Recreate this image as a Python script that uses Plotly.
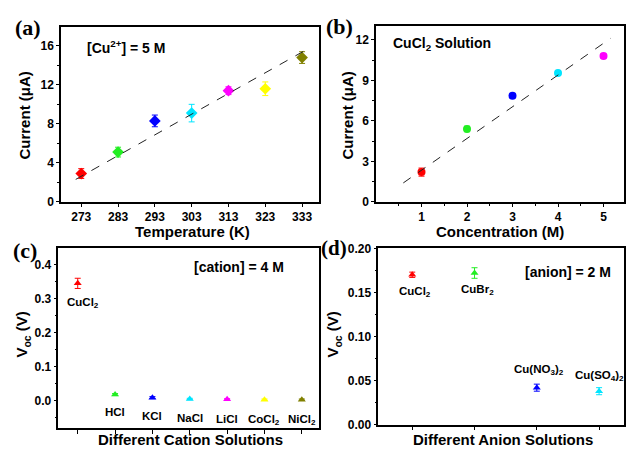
import plotly.graph_objects as go

W, H = 629, 454

# ---------------- data ----------------
temp_K = [273, 283, 293, 303, 313, 323, 333]
temp_current = [2.9, 5.1, 8.3, 9.1, 11.4, 11.6, 14.8]
temp_err = [0.5, 0.5, 0.6, 0.9, 0.4, 0.7, 0.6]
temp_fit_x = [271.5, 334.6]
temp_fit_y = [2.3, 15.7]

conc_M = [1, 2, 3, 4, 5]
conc_current = [2.2, 5.4, 7.85, 9.55, 10.8]
conc_err = [0.3, 0.2, 0.15, 0.1, 0.15]
conc_fit_x = [0.6, 5.15]
conc_fit_y = [1.4, 12.1]

cation_names = ["CuCl<sub>2</sub>", "HCl", "KCl", "NaCl", "LiCl", "CoCl<sub>2</sub>", "NiCl<sub>2</sub>"]
cation_voc = [0.345, 0.018, 0.009, 0.005, 0.004, 0.003, 0.003]
cation_err = [0.015, 0.003, 0.003, 0.002, 0.002, 0.002, 0.002]

anion_names = ["CuCl<sub>2</sub>", "CuBr<sub>2</sub>", "Cu(NO<sub>3</sub>)<sub>2</sub>", "Cu(SO<sub>4</sub>)<sub>2</sub>"]
anion_voc = [0.170, 0.172, 0.042, 0.038]
anion_err = [0.003, 0.006, 0.004, 0.004]

colors7 = ["#ff0000", "#22ee22", "#0000ff", "#00e5ff", "#ff00ff", "#ffff00", "#808000"]
colors5 = ["#ff0000", "#22ee22", "#0000ff", "#00e5ff", "#ff00ff"]
colors4 = ["#ff0000", "#22ee22", "#0000ff", "#00e5ff"]

# ---------------- helpers ----------------
def px_x(p):
    return p / W

def px_y(p):
    return (H - p) / H

FONT = "Liberation Sans, Arial, sans-serif"
SERIF = "Liberation Serif, Times New Roman, serif"

fig = go.Figure()

def add_points(xs, ys, errs, cols, symbol, size, xa, ya):
    for x, y, e, c in zip(xs, ys, errs, cols):
        fig.add_trace(go.Scatter(
            x=[x], y=[y], mode="markers", xaxis=xa, yaxis=ya,
            marker=dict(symbol=symbol, size=size, color=c, line=dict(width=0)),
            error_y=dict(type="data", array=[e], color=c, thickness=1, width=3),
            showlegend=False, hoverinfo="skip"))

# (a)
add_points(temp_K, temp_current, temp_err, colors7, "diamond", 9, "x", "y")
fig.add_trace(go.Scatter(x=temp_fit_x, y=temp_fit_y, mode="lines", xaxis="x", yaxis="y",
                         line=dict(color="#222222", width=1, dash="dash"), showlegend=False))
# (b)
add_points(conc_M, conc_current, conc_err, colors5, "circle", 8, "x2", "y2")
fig.add_trace(go.Scatter(x=conc_fit_x, y=conc_fit_y, mode="lines", xaxis="x2", yaxis="y2",
                         line=dict(color="#222222", width=1, dash="dash"), showlegend=False))
# (c)
add_points(list(range(len(cation_names))), cation_voc, cation_err, colors7, "triangle-up", 7, "x3", "y3")
# (d)
add_points(list(range(len(anion_names))), anion_voc, anion_err, colors4, "triangle-up", 7, "x4", "y4")

axis_common = dict(showline=True, linecolor="black", linewidth=1.5, mirror=True,
                   ticks="outside", ticklen=3, tickwidth=1.2, tickcolor="black",
                   showgrid=False, zeroline=False,
                   tickfont=dict(family=FONT, size=12, color="black", weight="bold"))

fig.update_layout(
    width=W, height=H, autosize=False,
    margin=dict(l=0, r=0, t=0, b=0),
    paper_bgcolor="white", plot_bgcolor="white",
    xaxis=dict(axis_common, domain=[px_x(61), px_x(319)], range=[267.5, 337.6],
               tickvals=temp_K, anchor="y"),
    yaxis=dict(axis_common, domain=[px_y(201), px_y(21)], range=[0, 17.9],
               tickvals=[0, 4, 8, 12, 16], anchor="x",
               minor=dict(ticks="outside", ticklen=2, tickvals=[2, 6, 10, 14], tickcolor="black")),
    xaxis2=dict(axis_common, domain=[px_x(376), px_x(624)], range=[0, 5.45],
                tickvals=conc_M, anchor="y2",
                minor=dict(ticks="outside", ticklen=2, tickvals=[0.5, 1.5, 2.5, 3.5, 4.5, 5.5], tickcolor="black")),
    yaxis2=dict(axis_common, domain=[px_y(201), px_y(20)], range=[0, 13.0],
                tickvals=[0, 3, 6, 9, 12], anchor="x2",
                minor=dict(ticks="outside", ticklen=2, tickvals=[1.5, 4.5, 7.5, 10.5], tickcolor="black")),
    xaxis3=dict(axis_common, domain=[px_x(58.3), px_x(319)], range=[-0.52, 6.46],
                tickvals=list(range(7)), showticklabels=False, anchor="y3", ticklen=4),
    yaxis3=dict(axis_common, domain=[px_y(434.3), px_y(248.3)], range=[-0.08, 0.45],
                tickvals=[0.0, 0.1, 0.2, 0.3, 0.4], tickformat=".1f", anchor="x3",
                minor=dict(ticks="outside", ticklen=2, tickvals=[-0.05, 0.05, 0.15, 0.25, 0.35], tickcolor="black")),
    xaxis4=dict(axis_common, domain=[px_x(378.3), px_x(624)], range=[-0.545, 3.4],
                tickvals=list(range(4)), showticklabels=False, anchor="y4", ticklen=4),
    yaxis4=dict(axis_common, domain=[px_y(431), px_y(249)], range=[0, 0.2],
                tickvals=[0, 0.05, 0.10, 0.15, 0.20], tickformat=".2f", anchor="x4",
                minor=dict(ticks="outside", ticklen=2, tickvals=[0.025, 0.075, 0.125, 0.175], tickcolor="black")),
)

ann = []
def txt(x, y, text, size=13, xanchor="center", family=FONT, angle=0, weight="bold"):
    ann.append(dict(x=px_x(x), y=px_y(y), xref="paper", yref="paper", text=text,
                    showarrow=False, xanchor=xanchor, yanchor="middle", textangle=angle,
                    font=dict(family=family, size=size, color="black", weight=weight)))

# panel labels
txt(28, 21, "(a)", size=22, family=SERIF)
txt(339, 20, "(b)", size=22, family=SERIF)
txt(25, 251, "(c)", size=22, family=SERIF)
txt(334, 249, "(d)", size=21, family=SERIF)

# axis titles
txt(192, 232, "Temperature (K)", size=15)
txt(500, 232, "Concentration (M)", size=15)
txt(190, 446, "Different Cation Solutions", size=15)
txt(503, 446, "Different Anion Solutions", size=15)
txt(25, 112, "Current (μA)", size=15, angle=-90)
txt(348, 112, "Current (μA)", size=15, angle=-90)
txt(23, 338, "V<sub>oc</sub> (V)", size=15, angle=-90)
txt(334, 338, "V<sub>oc</sub> (V)", size=15, angle=-90)

# in-plot notes
txt(85, 41, "[Cu<sup>2+</sup>] = 5 M", size=14, xanchor="left")
txt(391, 38, "CuCl<sub>2</sub> Solution", size=14, xanchor="left")
txt(192, 268, "[cation] = 4 M", size=14, xanchor="left")
txt(523, 273, "[anion] = 2 M", size=14, xanchor="left")

fig.update_layout(annotations=ann)

# category labels via data coordinates
cat_shift_c = [-20, -17, -18, -19, -20, -20, -20]
for i, (n, v) in enumerate(zip(cation_names, cation_voc)):
    fig.add_annotation(x=i + (0.15 if i == 0 else 0.0), y=v, xref="x3", yref="y3", text=n,
                       showarrow=False, yshift=cat_shift_c[i],
                       font=dict(family=FONT, size=11.5, color="black", weight="bold"))
anion_shift = [-17, -17, 18, 15]
anion_dx = [0.05, 0.05, 0.03, 0.0]
for i, (n, v) in enumerate(zip(anion_names, anion_voc)):
    fig.add_annotation(x=i + anion_dx[i], y=v, xref="x4", yref="y4", text=n,
                       showarrow=False, yshift=anion_shift[i],
                       font=dict(family=FONT, size=11.5, color="black", weight="bold"))

fig.write_html("out.html")
